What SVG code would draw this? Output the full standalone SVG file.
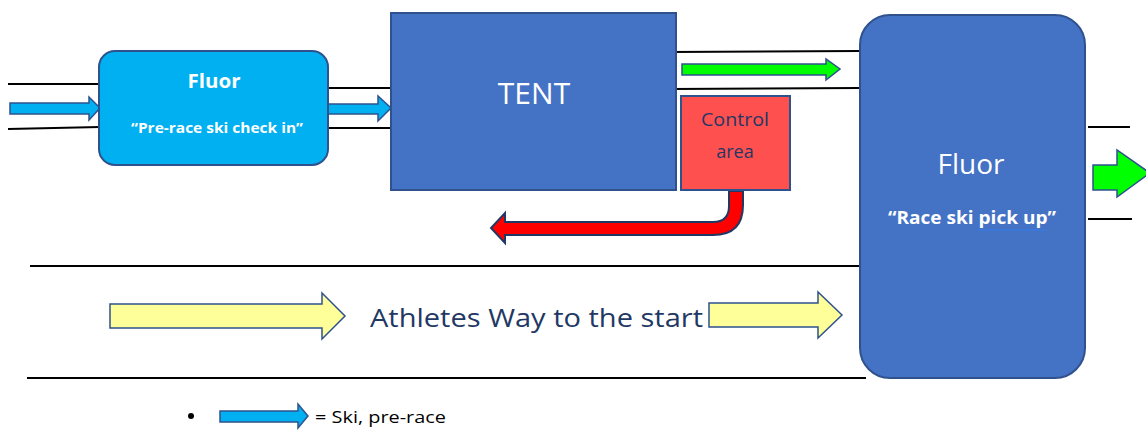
<svg xmlns="http://www.w3.org/2000/svg" width="1146" height="430" viewBox="0 0 1146 430">
<style>
.ln{stroke:#000;stroke-width:2;fill:none}
.arr{stroke:#2f528f;stroke-width:1.5;stroke-linejoin:miter}
.blue{fill:#00b0f0}
.green{fill:#00ff00}
.yellow{fill:#ffff99}
.red{fill:#ff0000;stroke:#203864;stroke-width:2}
.box{stroke:#2f528f;stroke-width:2}
.t{font-family:"Open Sans","Liberation Sans",sans-serif;text-anchor:middle}
</style>
<rect width="1146" height="430" fill="#fff"/>
<g id="connectors">
  <line class="ln" x1="8" y1="84" x2="100" y2="84"/>
  <line class="ln" x1="8" y1="129" x2="100" y2="127"/>
  <line class="ln" x1="328" y1="88" x2="391" y2="88"/>
  <line class="ln" x1="328" y1="128" x2="391" y2="128"/>
  <line class="ln" x1="670" y1="52" x2="860" y2="51"/>
  <line class="ln" x1="671" y1="89" x2="860" y2="88"/>
  <line class="ln" x1="1088" y1="127" x2="1130" y2="127"/>
  <line class="ln" x1="1088" y1="219" x2="1132" y2="219"/>
  <line class="ln" x1="30" y1="266" x2="860" y2="266"/>
  <line class="ln" x1="27" y1="378" x2="866" y2="378"/>
  <polygon class="arr blue" points="10,103 89,103 89,97 100,108 89,120 89,114 10,114"/>
  <polygon class="arr blue" points="328,104 378,104 378,96 391,108 378,121 378,114 328,114"/>
  <polygon class="arr green" points="682,64 826,64 826,59 840,69 826,80 826,75 682,75"/>
  <polygon class="arr green" points="1093,165 1117,165 1117,150 1150,173 1117,197 1117,190 1093,190"/>
  <path class="red" d="M729,191 L743,191 L743,205 Q743,235 713,235 L505,235 L505,243 L491,228 L505,213 L505,222 L713,222 Q729,222 729,206 Z"/>
  <polygon class="arr yellow" points="110,304 322,304 322,293 345,316 322,339 322,328 110,328"/>
  <polygon class="arr yellow" points="709,303 818,303 818,292 842,315 818,338 818,327 709,327"/>
</g>
<g id="fluor-checkin">
  <rect class="box" x="99" y="51" width="229" height="114" rx="16" fill="#00b0f0"/>
  <text class="t" x="214" y="88" font-size="19" font-weight="bold" fill="#fff" textLength="53" lengthAdjust="spacingAndGlyphs">Fluor</text>
  <text class="t" x="217" y="133" font-size="15" font-weight="bold" fill="#fff" textLength="172" lengthAdjust="spacingAndGlyphs">“Pre-race ski check in”</text>
</g>
<g id="tent">
  <rect class="box" x="391" y="13" width="285" height="177" fill="#4472c4"/>
  <text class="t" x="534" y="104" font-size="30" fill="#fff">TENT</text>
</g>
<g id="control">
  <rect class="box" x="681" y="96" width="109" height="94" fill="#ff5050"/>
  <text class="t" x="735" y="126" font-size="18" fill="#1f3864" textLength="68" lengthAdjust="spacingAndGlyphs">Control</text>
  <text class="t" x="735" y="158" font-size="18" fill="#1f3864">area</text>
</g>
<g id="fluor-pickup">
  <rect class="box" x="860" y="15" width="225" height="363" rx="30" fill="#4472c4"/>
  <text class="t" x="971" y="174" font-size="28" fill="#fff">Fluor</text>
  <text class="t" x="972" y="224" font-size="17" font-weight="bold" fill="#fff" textLength="168" lengthAdjust="spacingAndGlyphs">“Race ski pick up”</text>
  <line x1="978" y1="230" x2="1045" y2="230" stroke="#3a7be0" stroke-width="1.5"/>
</g>
<g id="athletes-way">
  <text x="370" y="327" font-size="26" fill="#1f3864" font-family="Open Sans, Liberation Sans, sans-serif" textLength="333" lengthAdjust="spacingAndGlyphs">Athletes Way to the start</text>
</g>
<g id="legend">
  <circle cx="191" cy="416" r="3" fill="#000"/>
  <polygon class="arr blue" points="220,411 298,411 298,404 308,416 298,428 298,422 220,422"/>
  <text x="315" y="423" font-size="17" fill="#000" font-family="Open Sans, Liberation Sans, sans-serif" textLength="131" lengthAdjust="spacingAndGlyphs">= Ski, pre-race</text>
</g>
</svg>
